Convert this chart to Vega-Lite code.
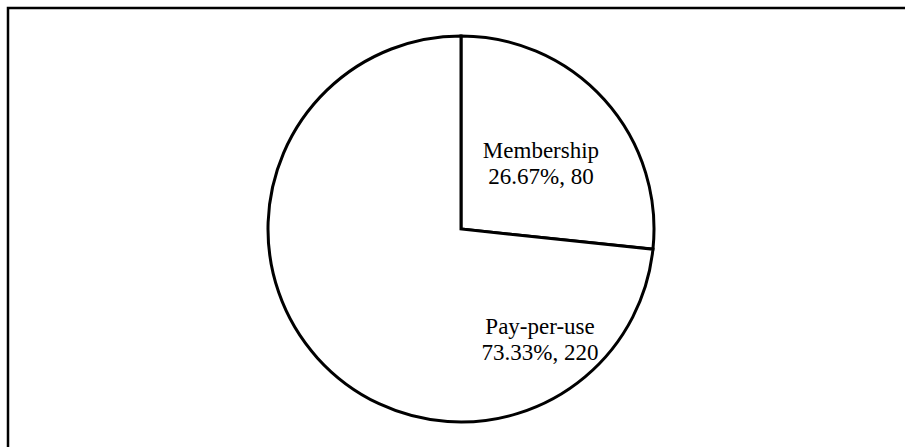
{
  "$schema": "https://vega.github.io/schema/vega-lite/v6.json",
  "width": 906,
  "height": 442,
  "autosize": {"type": "none"},
  "padding": {"left": 8, "top": 8, "right": 0, "bottom": 0},
  "background": "white",
  "view": {"stroke": "black", "strokeWidth": 2.5, "fill": "white"},
  "data": {
    "values": [
      {"category": "Membership", "value": 80, "label": ["Membership", "26.67%, 80"]},
      {"category": "Pay-per-use", "value": 220, "label": ["Pay-per-use", "73.33%, 220"]}
    ]
  },
  "layer": [
    {
      "mark": {"type": "arc", "outerRadius": 193, "fill": "white", "stroke": "black", "strokeWidth": 3},
      "encoding": {
        "theta": {"field": "value", "type": "quantitative", "stack": true, "sort": null},
        "order": {"field": "category", "type": "nominal", "sort": "ascending"}
      }
    },
    {
      "transform": [{"filter": "datum.category === 'Membership'"}],
      "mark": {"type": "text", "theta": 0.798, "radius": 111.7, "font": "Liberation Serif", "fontSize": 23, "lineHeight": 26, "align": "center", "baseline": "middle", "color": "black"},
      "encoding": {"text": {"field": "label"}}
    },
    {
      "transform": [{"filter": "datum.category === 'Pay-per-use'"}],
      "mark": {"type": "text", "theta": 2.463, "radius": 125.9, "font": "Liberation Serif", "fontSize": 23, "lineHeight": 26, "align": "center", "baseline": "middle", "color": "black"},
      "encoding": {"text": {"field": "label"}}
    }
  ]
}
